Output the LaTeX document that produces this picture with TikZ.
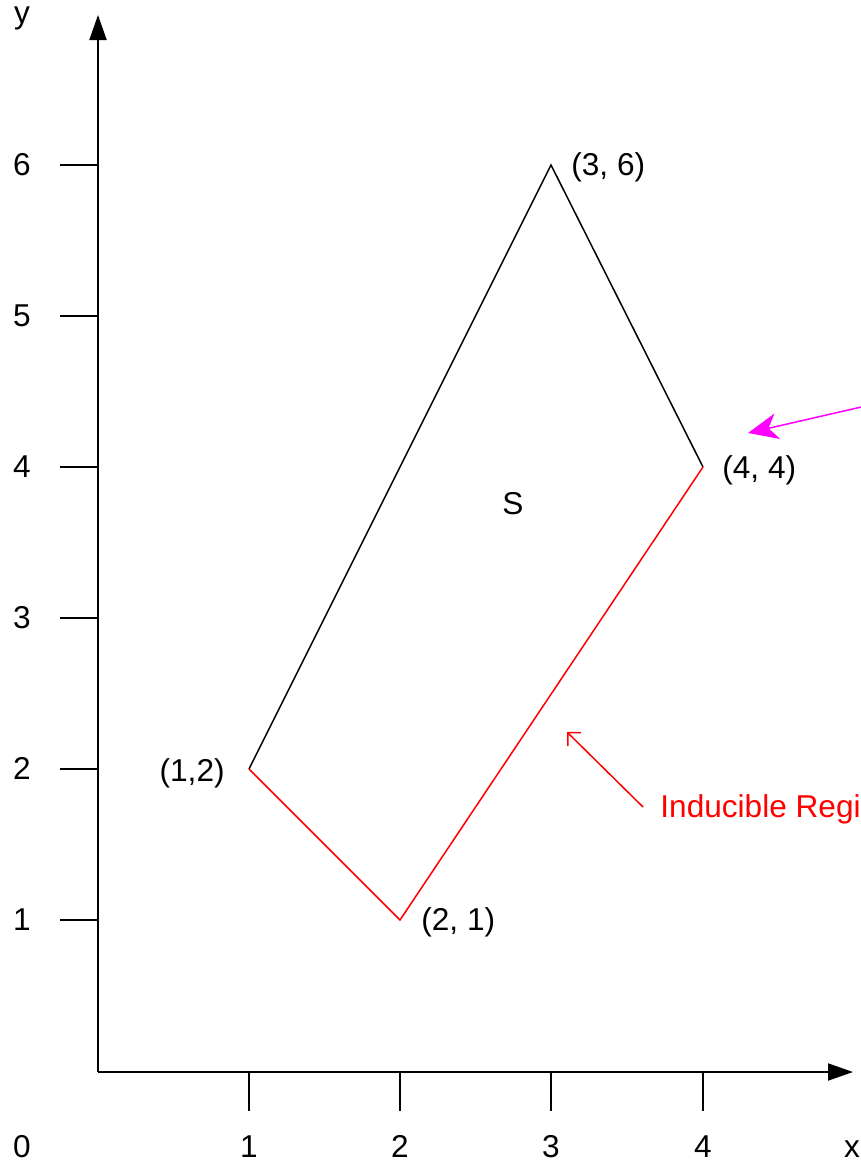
\documentclass[tikz,border=0pt]{standalone}
\usepackage{fontspec}
\setmainfont{Liberation Sans}
\usetikzlibrary{arrows.meta}
\definecolor{mag}{HTML}{FF00FF}
\definecolor{redc}{HTML}{FF0000}
\begin{document}
\begin{tikzpicture}[x=0.5pt,y=-0.5pt,
  lbl/.style={inner sep=0pt,font=\fontsize{15.8}{18}\selectfont},
  axis/.style={line width=1pt,-{Triangle[length=12.5pt,width=8.5pt]}},
  tick/.style={line width=1pt},
  edge/.style={line width=0.75pt,line join=miter},
  redge/.style={edge,draw=redc}]
\useasboundingbox (0,0) rectangle (861,1163);
% origin and axes
\coordinate (O) at (98,1072);
\coordinate (Ytop) at (98,15);
\coordinate (Xend) at (853,1072);
\draw[axis] (O) -- (Ytop);
\draw[axis] (O) -- (Xend);
% x ticks
\foreach \i/\px in {1/249,2/400,3/551,4/703}{
  \coordinate (xt\i) at (\px,1072);
  \coordinate (xb\i) at (\px,1111);
  \draw[tick] (xt\i) -- (xb\i);
  \node[lbl,anchor=base] (xl\i) at (\px,1157) {\i};
}
% y ticks
\foreach \i/\py in {1/920,2/769,3/618,4/467,5/316,6/165}{
  \coordinate (yt\i) at (98,\py);
  \coordinate (yb\i) at (60,\py);
  \draw[tick] (yt\i) -- (yb\i);
  \node[lbl,anchor=base] (yl\i) at (22,\py+10) {\i};
}
\node[lbl,anchor=base] (zero) at (22,1157) {0};
\node[lbl,anchor=base] (ylab) at (22,23) {y};
\node[lbl,anchor=base] (xlab) at (852,1157) {x};
% polygon
\coordinate (A) at (249,769);
\coordinate (B) at (400,920);
\coordinate (C) at (551,165);
\coordinate (D) at (703,467);
\draw[edge] (A) -- (C) -- (D);
\draw[redge] (D) -- (B) -- (A);
% point labels
\node[lbl,anchor=base east] (lA) at (225,781) {(1,2)};
\node[lbl,anchor=base west] (lB) at (421,930) {(2, 1)};
\node[lbl,anchor=base west] (lC) at (571,175) {(3, 6)};
\node[lbl,anchor=base west] (lD) at (722,478) {(4, 4)};
\node[lbl,anchor=base] (S) at (513,514) {S};
% magenta arrow
\coordinate (m1) at (870,405);
\coordinate (m2) at (748,433);
\draw[line width=0.75pt,draw=mag,-{Stealth[length=15pt,width=13pt,inset=4.5pt]}] (m1) -- (m2);
% red arrow and label
\node[lbl,anchor=base west,text=redc] (ind) at (660,817) {Inducible Regi};
\coordinate (r1) at (643,807);
\coordinate (r2) at (567,732);
\draw[line width=0.75pt,draw=redc,-{Straight Barb[length=4.6pt,width=9.2pt]}] (r1) -- (r2);
\end{tikzpicture}
\end{document}
